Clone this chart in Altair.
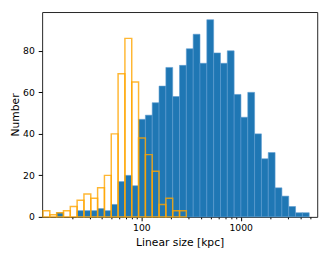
import altair as alt
import numpy as np
import pandas as pd

# Histogram bins (log-spaced), counts
bin_lo = 10.2
bin_hi = 4900.0
n_bins = 39
blue_counts = [0, 0, 2, 0, 0, 3, 3, 3, 4, 3, 6, 17, 20, 15, 47, 49, 55, 63, 72, 58,
               73, 81, 88, 74, 95, 79, 74, 80, 59, 48, 60, 40, 28, 31, 14, 10, 5, 2, 2]
orange_counts = [3, 1, 2, 3, 5, 8, 11, 9, 14, 20, 40, 69, 86, 65, 38, 30, 22, 6, 9, 3,
                 3, 0, 0, 0, 0, 0, 0, 0, 0, 0, 0, 0, 0, 0, 0, 0, 0, 0, 0]
major_ticks = [100, 1000]
minor_ticks = [20, 30, 40, 50, 60, 70, 80, 90, 200, 300, 400, 500, 600, 700, 800, 900,
               2000, 3000, 4000, 5000]
y_ticks = [0, 20, 40, 60, 80]

edges = np.logspace(np.log10(bin_lo), np.log10(bin_hi), n_bins + 1)
df = pd.DataFrame({"lo": edges[:-1], "hi": edges[1:],
                   "blue": blue_counts, "orange": orange_counts})

xscale = alt.Scale(type="log", domain=[10, 5900], nice=False)
yscale = alt.Scale(domain=[0, 98.7], nice=False)

all_ticks = sorted(major_ticks + minor_ticks)
xaxis = alt.Axis(
    values=all_ticks,
    title="Linear size [kpc]",
    format="d",
    labelExpr="datum.value == 100 || datum.value == 1000 ? datum.label : ''",
    tickSize={"condition": {"test": "datum.value == 100 || datum.value == 1000", "value": 4}, "value": 2},
    labelPadding=2,
    titlePadding=5,
    grid=False,
    domain=False,
)
yaxis = alt.Axis(values=y_ticks, title="Number", tickSize=4, labelPadding=4,
                 titlePadding=2, grid=False, domain=False)

blue = alt.Chart(df).transform_filter("datum.blue > 0").mark_rect(
    color="#1f77b4", stroke="#5d9bd0", strokeWidth=0.6
).encode(
    x=alt.X("lo:Q", scale=xscale, axis=xaxis),
    x2="hi:Q",
    y=alt.Y("blue:Q", scale=yscale, axis=yaxis),
    y2=alt.datum(0),
)

orange = alt.Chart(df).transform_filter("datum.orange > 0").mark_rect(
    fill=None, fillOpacity=0, stroke="#FFA500", strokeOpacity=0.8, strokeWidth=1.5
).encode(
    x=alt.X("lo:Q", scale=xscale),
    x2="hi:Q",
    y=alt.Y("orange:Q", scale=yscale),
    y2=alt.datum(0),
)

chart = alt.layer(blue, orange).properties(
    width=282, height=210,
    autosize=alt.AutoSizeParams(type="none"),
    padding={"left": 35, "top": 1, "right": 9, "bottom": 38},
).configure_axis(
    labelFont="DejaVu Sans", labelFontSize=9.5, labelColor="black",
    titleFont="DejaVu Sans", titleFontSize=11, titleFontWeight="normal", titleColor="black",
    tickColor="black",
).configure_view(stroke="#222", strokeWidth=1)

chart.save("out.html", embed_options={"renderer": "svg", "actions": False})
